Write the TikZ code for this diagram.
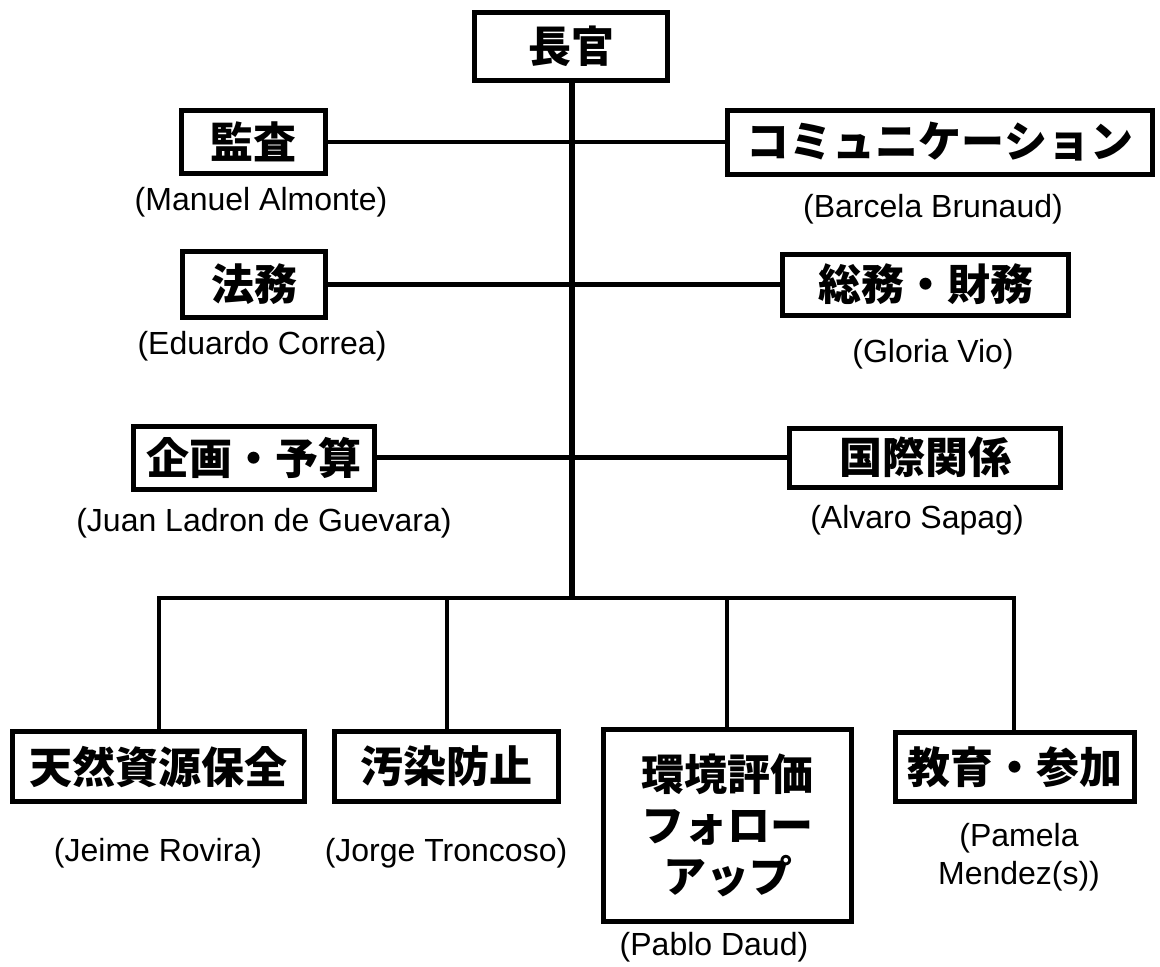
\documentclass[tikz,border=0pt]{standalone}
\usepackage{fontspec}
\setmainfont{Liberation Sans}
\newfontfamily\cjk{Noto Sans CJK JP}
\begin{document}
\begin{tikzpicture}[x=1pt,y=-1pt,
  box/.style={draw=black, line width=5pt, fill=white, inner sep=0pt, font=\cjk\bfseries\fontsize{43}{51}\selectfont, align=center},
  who/.style={inner sep=0pt, font=\fontsize{32}{38}\selectfont, align=center},
  trunk/.style={line width=6.5pt},
  branch/.style={line width=4.5pt},
  drop/.style={line width=4.5pt}]
\useasboundingbox (0,0) rectangle (1160,967);
% top
\node[box, minimum width=193pt, minimum height=68pt] (boss) at (571,46.5) {長官};
% left / right staff
\node[box, minimum width=144pt, minimum height=63pt] (audit) at (253.5,142) {監査};
\node[box, minimum width=425pt, minimum height=64pt] (comm) at (940,142) {コミュニケーション};
\node[box, minimum width=143pt, minimum height=66pt] (legal) at (254,284.5) {法務};
\node[box, minimum width=286pt, minimum height=61pt] (gen) at (925.5,284.5) {総務・財務};
\node[box, minimum width=241pt, minimum height=63pt] (plan) at (254,457.5) {企画・予算};
\node[box, minimum width=271pt, minimum height=59pt] (intl) at (925,457.5) {国際関係};
% bottom divisions
\node[box, minimum width=292pt, minimum height=70pt] (nat) at (158.5,766.5) {天然資源保全};
\node[box, minimum width=224pt, minimum height=70pt] (poll) at (446.5,766.5) {汚染防止};
\node[box, minimum width=248pt, minimum height=192pt] (eia) at (727.5,825.5) {環境評価\\フォロー\\アップ};
\node[box, minimum width=239pt, minimum height=69pt] (edu) at (1015,767) {教育・参加};
% names
\node[who] (n1) at (261,202) {(Manuel Almonte)};
\node[who] (n2) at (933,209) {(Barcela Brunaud)};
\node[who] (n3) at (262,346) {(Eduardo Correa)};
\node[who] (n4) at (933,354) {(Gloria Vio)};
\node[who] (n5) at (264,523) {(Juan Ladron de Guevara)};
\node[who] (n6) at (917,520) {(Alvaro Sapag)};
\node[who] (n7) at (158,853) {(Jeime Rovira)};
\node[who] (n8) at (446,853) {(Jorge Troncoso)};
\node[who] (n9) at (714,947) {(Pablo Daud)};
\node[who] (n10) at (1019,857) {(Pamela\\Mendez(s))};
% connectors
\coordinate (bus) at (572,598);
\coordinate (busL) at (159,598);
\coordinate (busB) at (447,598);
\coordinate (busC) at (727,598);
\coordinate (busR) at (1014,598);
\draw[branch] (audit.east) -- (comm.west);
\draw[branch] (legal.east) -- (gen.west);
\draw[branch] (plan.east) -- (intl.west);
\draw[trunk] (boss.south -| bus) -- (bus);
\draw[branch, line cap=rect] (busL) -- (busR);
\draw[drop] (busL) -- (nat.north -| busL);
\draw[drop] (busB) -- (poll.north -| busB);
\draw[drop] (busC) -- (eia.north -| busC);
\draw[drop] (busR) -- (edu.north -| busR);
\end{tikzpicture}
\end{document}
